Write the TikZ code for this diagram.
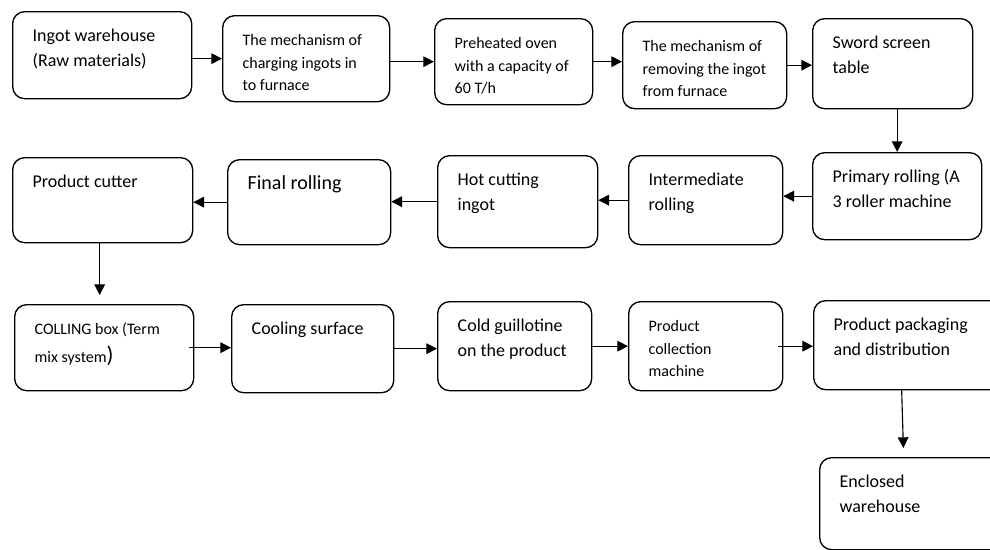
\documentclass[tikz,border=0pt]{standalone}
\usepackage{fontspec}
\setmainfont{Carlito}
\usetikzlibrary{arrows.meta}

\newlength\pxu
\setlength\pxu{0.75pt}
\newcommand{\bigtxt}{\fontsize{13.5}{18.8}\selectfont}
\newcommand{\smalltxt}{\fontsize{12}{16.9}\selectfont}

\tikzset{
  stage/.style 2 args={draw, line width=1pt, rounded corners=9pt, anchor=north west, inner sep=0pt,
    execute at begin node={\begin{minipage}[t][#2\pxu][t]{#1\pxu}\raggedright\leftskip=20\pxu\rule{0pt}{30\pxu}},
    execute at end node={\end{minipage}}},
}

\begin{document}
\begin{tikzpicture}[x=0.75pt, y=-0.75pt]
\useasboundingbox (0,0) rectangle (990,550);

\begin{scope}[every node/.style={font=\bigtxt}]
    % First row
    \node (W) at (12,11) [stage={179}{87}] {Ingot warehouse\\(Raw materials)};
    \node (CH) at (222,15) [stage={167}{86}, font=\smalltxt] {The mechanism of\\charging ingots in\\to furnace};
    \node (OV) at (434,18) [stage={158}{86}, font=\smalltxt] {Preheated oven\\with a capacity of\\60 T/h};
    \node (RM) at (622,21) [stage={164}{87}, font=\smalltxt] {The mechanism of\\removing the ingot\\from furnace};
    \node (SW) at (812,18) [stage={160}{90}] {Sword screen\\table};

    % Second row
    \node (PR) at (812,152) [stage={169}{87}] {Primary rolling (A\\3 roller machine};
    \node (IR) at (628,155) [stage={154}{89}] {Intermediate\\rolling};
    \node (HC) at (437,155) [stage={160}{92}] {Hot cutting\\ingot};
    \node (FR) at (227,159) [stage={163}{85}, font=\fontsize{15}{20}\selectfont] {Final rolling};
    \node (PC) at (12,157) [stage={180}{85}] {Product cutter};

    % Third row
    \node (CB) at (14,304) [stage={179}{86}, font=\fontsize{12}{21}\selectfont] {COLLING box (Term\\mix system{\fontsize{17}{21}\selectfont)}};
    \node (CS) at (231,304) [stage={162}{88}] {Cooling surface};
    \node (CG) at (437,301) [stage={154}{89}] {Cold guillotine\\on the product};
    \node (CM) at (628,301) [stage={154}{89}, font=\smalltxt] {Product\\collection\\machine};
    \node (PD) at (813,300) [stage={190}{89}] {Product packaging\\and distribution};
    \node (EW) at (819,457) [stage={190}{92}] {Enclosed\\warehouse};
\end{scope}

\tikzset{flow/.style={line width=0.85pt, -{Triangle[length=8pt,width=8pt]}}}

\begin{scope}[every path/.style={flow}]
    \draw (W.east |- CH.west) -- (CH.west);
    \draw (CH.east |- OV.west) -- (OV.west);
    \draw (OV.east) -- (OV.east -| RM.west);
    \draw (RM.east) -- (RM.east -| SW.west);
    \draw (SW.south -| PR.north) -- (PR.north);

    \draw (PR.west) -- (PR.west -| IR.east);
    \draw (IR.west) -- (IR.west -| HC.east);
    \draw (HC.west) -- (HC.west -| FR.east);
    \draw (FR.west) -- (FR.west -| PC.east);
    \draw [shorten >=9\pxu] ([xshift=-3\pxu]PC.south) -- ([xshift=-3\pxu]PC.south |- CB.north);

    \draw ([xshift=-5\pxu]CB.east) -- (CB.east -| CS.west);
    \draw (CS.east) -- (CS.east -| CG.west);
    \draw (CG.east) -- (CG.east -| CM.west);
    \draw ([xshift=-5\pxu]CM.east) -- (CM.east -| PD.west);
    \draw [shorten >=9\pxu] ([xshift=-7\pxu]PD.south) -- ([xshift=-5\pxu]PD.south |- EW.north);
\end{scope}

\end{tikzpicture}
\end{document}
